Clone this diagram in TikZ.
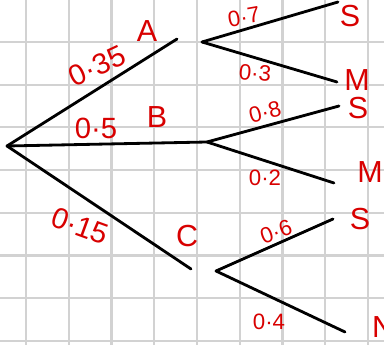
\documentclass[tikz,border=0pt]{standalone}
\usepackage{fontspec}
\setmainfont{Liberation Sans}
\definecolor{inkred}{RGB}{216,0,0}
\definecolor{gridgray}{RGB}{210,210,210}

\begin{document}
\begin{tikzpicture}[
    x=0.03cm, y=-0.03cm,
    branch/.style={line width=2.4pt, line cap=round},
    gridline/.style={gridgray, line width=1.8pt},
    bigprob/.style={text=inkred, inner sep=0pt, font=\fontsize{25}{25}\selectfont},
    smallprob/.style={text=inkred, inner sep=0pt, font=\fontsize{19}{19}\selectfont},
    outcome/.style={text=inkred, inner sep=0pt, font=\fontsize{26}{26}\selectfont}
]
    \useasboundingbox (0,0) rectangle (384,345);
    \clip (0,0) rectangle (384,345);
    \fill[white] (0,0) rectangle (384,345);
    % squared paper
    \foreach \gx in {0,...,8}
        \draw[gridline] (26+42.75*\gx,0) -- (26+42.75*\gx,345);
    \foreach \gy in {0,...,7}
        \draw[gridline] (0,42+42.7*\gy) -- (384,42+42.7*\gy);

    \coordinate (root) at (7,146);
    \coordinate (endA) at (177,39);
    \coordinate (splitA) at (202,42);
    \coordinate (splitB) at (207,142);
    \coordinate (endC) at (191,269);
    \coordinate (splitC) at (216,271);
    \coordinate (AS) at (338,2);
    \coordinate (AM) at (337,82);
    \coordinate (BS) at (339,106);
    \coordinate (BM) at (334,183);
    \coordinate (CS) at (333,219);
    \coordinate (CN) at (345,332);

    \draw[branch] (root) -- (endA);
    \draw[branch] (root) -- (splitB);
    \draw[branch] (root) -- (endC);
    \draw[branch] (splitA) -- (AS);
    \draw[branch] (splitA) -- (AM);
    \draw[branch] (splitB) -- (BS);
    \draw[branch] (splitB) -- (BM);
    \draw[branch] (splitC) -- (CS);
    \draw[branch] (splitC) -- (CN);

    \node[bigprob, rotate=25] (pA) at (97,66) {0·35};
    \node[outcome] (labA) at (147,31) {A};
    \node[bigprob] (pB) at (96,128) {0·5};
    \node[outcome] (labB) at (157,117) {B};
    \node[bigprob, rotate=-20] (pC) at (80,226) {0·15};
    \node[outcome] (labC) at (187,236) {C};

    \node[smallprob, rotate=10] (pAS) at (244,17) {0·7};
    \node[outcome] (labAS) at (350,16) {S};
    \node[smallprob, rotate=-5] (pAM) at (255,73) {0·3};
    \node[outcome] (labAM) at (357,80) {M};
    \node[smallprob, rotate=15] (pBS) at (265,112) {0·8};
    \node[outcome] (labBS) at (358,108) {S};
    \node[smallprob] (pBM) at (265,178) {0·2};
    \node[outcome] (labBM) at (370,172) {M};
    \node[smallprob, rotate=20] (pCS) at (276,232) {0·6};
    \node[outcome] (labCS) at (360,219) {S};
    \node[smallprob] (pCN) at (269,322) {0·4};
    \node[outcome] (labCN) at (383,327) {N};
\end{tikzpicture}
\end{document}
